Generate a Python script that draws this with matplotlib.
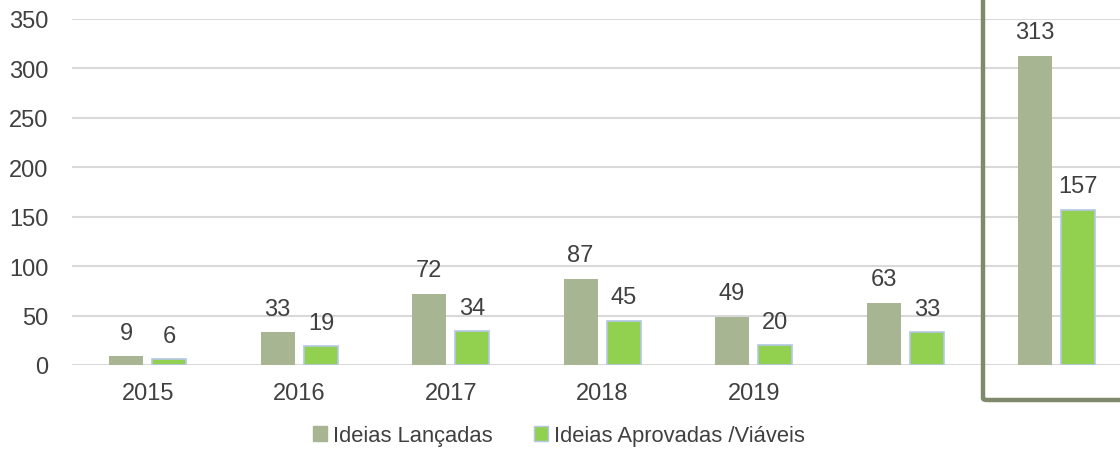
import matplotlib.pyplot as plt
import numpy as np
from matplotlib.patches import FancyBboxPatch, Patch

anos = ['2015', '2016', '2017', '2018', '2019', '', '']
lancadas = [9, 33, 72, 87, 49, 63, 313]
aprovadas = [6, 19, 34, 45, 20, 33, 157]

cor_lancadas = '#A7B592'
cor_aprovadas = '#92D050'
cor_texto = '#404040'

plt.rcParams['font.family'] = ['Liberation Sans', 'DejaVu Sans']

fig = plt.figure(figsize=(11.2, 4.56), dpi=100)
W, H = 1120, 456
# area do grafico passa da borda direita (cortada como na imagem original)
ax = fig.add_axes([72 / W, (H - 366) / H, (1132.5 - 72) / W, 346 / H])

x = np.arange(len(anos))
larg = 0.224
off = 0.143
b1 = ax.bar(x - off, lancadas, larg, color=cor_lancadas, zorder=3)
b2 = ax.bar(x + off, aprovadas, larg, color=cor_aprovadas,
            edgecolor='#B4C7E7', linewidth=1.2, zorder=3)

for barras in (b1, b2):
    for b in barras:
        ax.annotate(f'{int(b.get_height())}', (b.get_x() + b.get_width() / 2, b.get_height()),
                    xytext=(0, 9), textcoords='offset points', ha='center', va='bottom',
                    fontsize=17, color=cor_texto)

ax.set_xlim(-0.5, len(anos) - 0.5)
ax.set_ylim(0, 350)
ax.set_yticks(range(0, 351, 50))
ax.set_xticks(x)
ax.set_xticklabels(anos)
ax.yaxis.grid(True, color='#D9D9D9', linewidth=1.5, zorder=0)
ax.set_axisbelow(True)
for s in ax.spines.values():
    s.set_visible(False)
ax.tick_params(axis='both', length=0, labelsize=17, colors=cor_texto)
ax.tick_params(axis='y', pad=17)
ax.tick_params(axis='x', pad=12)

# destaque do ultimo periodo
caixa = FancyBboxPatch((983 / W, 55 / H), (1140 - 983) / W, (401 + 20) / H,
                       boxstyle='round,pad=0,rounding_size=0.004', transform=fig.transFigure,
                       fill=False, edgecolor='#7E8A6B', linewidth=3.2, zorder=10)
fig.patches.append(caixa)

handles = [Patch(facecolor=cor_lancadas, edgecolor=cor_lancadas, label='Ideias Lançadas'),
           Patch(facecolor=cor_aprovadas, edgecolor='#B4C7E7', label='Ideias Aprovadas /Viáveis')]
fig.legend(handles=handles, loc='center', bbox_to_anchor=(559 / W, (H - 437) / H), ncol=2,
           frameon=False, fontsize=15.8, handlelength=0.65, handleheight=0.65, handletextpad=0.25,
           columnspacing=1.9, labelcolor=cor_texto)

fig.savefig('out.png', dpi=100)
